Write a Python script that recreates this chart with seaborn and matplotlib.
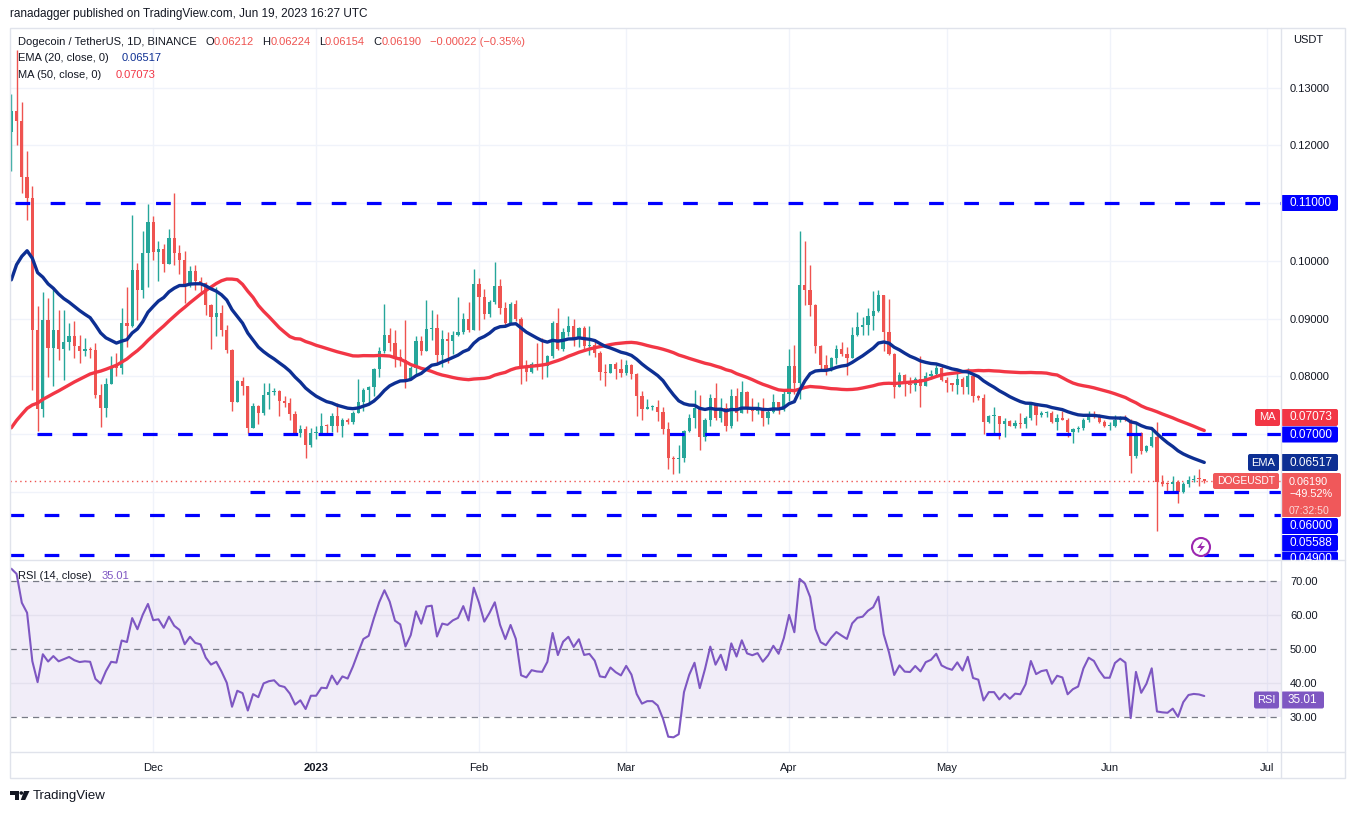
import numpy as np
import pandas as pd
import matplotlib
matplotlib.use("Agg")
import matplotlib.pyplot as plt
import matplotlib.dates as mdates
from matplotlib.patches import Rectangle, FancyBboxPatch, Circle, Polygon
import seaborn as sns

# daily DOGE/USDT candles, Nov 4 2022 .. Jun 19 2023, prices in 0.0001 USDT
start = "2022-11-04"
first_open = 1224
close = [1259, 1243, 1146, 1109, 881, 743, 897, 849, 880, 848,
         859, 870, 853, 844, 847, 845, 768, 745, 786, 818,
         815, 893, 888, 985, 949, 1013, 1067, 1016, 1020, 994,
         1040, 1013, 1001, 958, 983, 965, 961, 923, 902, 909,
         881, 846, 756, 792, 783, 711, 748, 736, 767, 772,
         774, 758, 754, 735, 701, 708, 681, 702, 702, 714,
         713, 731, 713, 724, 720, 736, 756, 777, 782, 812,
         844, 872, 858, 833, 828, 796, 815, 862, 844, 882,
         884, 837, 864, 862, 871, 876, 900, 881, 960, 938,
         908, 929, 956, 919, 893, 925, 899, 814, 808, 822,
         819, 818, 835, 892, 847, 876, 887, 867, 883, 852,
         854, 841, 808, 806, 821, 812, 806, 819, 804, 766,
         744, 747, 747, 738, 709, 658, 656, 659, 705, 728,
         745, 695, 724, 763, 727, 745, 713, 765, 737, 772,
         744, 740, 744, 727, 738, 755, 741, 769, 818, 789,
         959, 950, 924, 853, 819, 811, 831, 847, 839, 832,
         871, 886, 889, 904, 913, 941, 877, 839, 782, 802,
         786, 785, 796, 784, 800, 804, 814, 793, 788, 785,
         795, 782, 800, 765, 762, 721, 731, 731, 717, 723,
         714, 719, 718, 727, 750, 733, 736, 737, 720, 727,
         725, 704, 708, 710, 724, 733, 730, 721, 714, 714,
         724, 727, 724, 662, 701, 670, 679, 695, 616, 614,
         613, 617, 600, 614, 621, 622, 621.2, 619.0]
high = [1290, 1366, 1275, 1190, 1130, 922, 946, 935, 952, 915,
        915, 893, 896, 871, 867, 851, 857, 786, 797, 835,
        841, 918, 955, 1079, 997, 1052, 1098, 1078, 1034, 1029,
        1056, 1117, 1027, 1017, 991, 992, 972, 964, 926, 955,
        924, 889, 848, 793, 799, 783, 753, 750, 789, 789,
        780, 776, 766, 762, 739, 715, 714, 711, 714, 736,
        718, 736, 753, 727, 727, 739, 795, 779, 783, 814,
        851, 925, 883, 881, 848, 898, 818, 870, 869, 933,
        915, 908, 881, 877, 879, 938, 910, 928, 986, 971,
        951, 932, 998, 969, 929, 929, 933, 903, 828, 825,
        857, 866, 837, 895, 919, 883, 904, 899, 886, 887,
        887, 864, 843, 822, 822, 824, 830, 828, 821, 806,
        774, 760, 751, 759, 747, 721, 661, 681, 707, 734,
        776, 767, 727, 770, 788, 763, 753, 778, 779, 792,
        774, 762, 755, 763, 741, 770, 756, 778, 848, 855,
        1051, 1034, 992, 926, 854, 837, 833, 854, 860, 850,
        886, 912, 903, 919, 948, 950, 941, 934, 840, 808,
        804, 798, 799, 835, 808, 811, 819, 817, 799, 789,
        810, 798, 814, 805, 768, 770, 733, 747, 731, 727,
        724, 725, 736, 731, 753, 750, 740, 739, 739, 735,
        740, 728, 710, 714, 727, 740, 740, 735, 725, 720,
        733, 731, 733, 726, 717, 703, 681, 710, 720, 629,
        617, 627, 620, 616, 627, 629, 639, 622.4]
low = [1155, 1201, 1117, 1071, 776, 705, 730, 799, 783, 828,
       793, 846, 832, 823, 836, 831, 763, 712, 730, 786,
       800, 804, 851, 886, 897, 936, 955, 1001, 965, 981,
       994, 993, 978, 927, 955, 949, 944, 906, 848, 869,
       869, 841, 739, 756, 767, 701, 711, 718, 733, 743,
       767, 731, 747, 724, 700, 695, 659, 678, 691, 698,
       701, 704, 704, 695, 717, 717, 736, 739, 753, 765,
       799, 841, 843, 816, 818, 779, 796, 800, 837, 843,
       863, 821, 816, 823, 839, 869, 874, 877, 880, 881,
       899, 902, 925, 908, 889, 892, 895, 787, 791, 806,
       811, 795, 799, 831, 846, 844, 869, 852, 851, 843,
       837, 833, 793, 784, 805, 796, 799, 802, 795, 731,
       725, 743, 741, 722, 700, 640, 630, 632, 652, 704,
       711, 673, 688, 714, 724, 721, 705, 711, 722, 736,
       737, 723, 734, 713, 717, 736, 734, 740, 757, 769,
       761, 924, 905, 841, 811, 803, 810, 822, 835, 802,
       831, 870, 871, 871, 880, 912, 843, 837, 762, 782,
       765, 771, 775, 747, 783, 795, 800, 792, 773, 775,
       770, 770, 770, 756, 759, 700, 719, 702, 691, 695,
       713, 711, 710, 710, 724, 716, 730, 730, 719, 707,
       724, 694, 685, 704, 707, 721, 727, 719, 712, 707,
       712, 721, 723, 632, 659, 666, 669, 677, 531, 609,
       597, 600, 581, 598, 608, 617, 610, 615.4]

# closes before the visible window (Sep 16 .. Nov 3 2022), only to seed EMA / MA / RSI
warmup_close = [606, 612, 598, 585, 580, 574, 605, 625, 612, 598,
                602, 606, 612, 610, 625, 630, 631, 628, 643, 640,
                624, 612, 608, 602, 599, 596, 591, 595, 599, 601,
                602, 594, 590, 592, 596, 600, 598, 599, 601,
                640, 700, 760, 850, 1180, 1310, 1280, 1430, 1280, 1224]

# drawn support / resistance levels and where they begin
levels = [0.11, 0.07, 0.06, 0.05588, 0.049]
level_start = ["2022-11-04 17:00", "2022-11-08 20:00", "2022-12-19 12:00",
               "2022-11-03 12:00", "2022-11-03 12:00"]

month_ticks = ["2022-12-01", "2023-01-01", "2023-02-01", "2023-03-01",
               "2023-04-01", "2023-05-01", "2023-06-01", "2023-07-01"]
month_labels = ["Dec", "2023", "Feb", "Mar", "Apr", "May", "Jun", "Jul"]

UP, DOWN = "#26A69A", "#EF5350"
EMA_C, MA_C, RSI_C, LVL_C = "#0D2F93", "#F23645", "#7E57C2", "#0000FF"
TXT, GRID, FRAME = "#131722", "#F0F3FA", "#E0E3EB"

sns.set_theme(style="white")
plt.rcParams["font.family"] = ["Liberation Sans", "DejaVu Sans"]

# ---- data frame with indicators
allc = pd.Series(np.array(warmup_close + close, dtype=float) / 1e4)
ema = allc.ewm(span=20, adjust=False).mean()
ma = allc.rolling(50, min_periods=1).mean()
d = allc.diff()
gain = d.clip(lower=0).ewm(alpha=1 / 14, adjust=False).mean()
loss = (-d.clip(upper=0)).ewm(alpha=1 / 14, adjust=False).mean()
rsi = 100 - 100 / (1 + gain / loss)
n0 = len(warmup_close)

dates = pd.date_range(start, periods=len(close), freq="D")
df = pd.DataFrame({
    "x": mdates.date2num(dates),
    "open": np.array([first_open] + close[:-1], dtype=float) / 1e4,
    "high": np.array(high, dtype=float) / 1e4,
    "low": np.array(low, dtype=float) / 1e4,
    "close": np.array(close, dtype=float) / 1e4,
    "ema": ema.values[n0:],
    "ma": ma.values[n0:],
    "rsi": rsi.values[n0:],
})
df["high"] = df[["high", "open", "close"]].max(axis=1)
df["low"] = df[["low", "open", "close"]].min(axis=1)

# ---- figure layout in pixels
W, H = 1355, 814
fig = plt.figure(figsize=(W / 100, H / 100), dpi=100)
fig.patch.set_facecolor("white")


def fx(px):
    return px / W


def fy(py):
    return 1 - py / H


ax = fig.add_axes([fx(10), fy(560), fx(1281) - fx(10), fy(28) - fy(560)])
rax = fig.add_axes([fx(10), fy(752), fx(1281) - fx(10), fy(560) - fy(752)])

x0 = df["x"].iloc[0]
xlim = (x0 - 0.25, x0 + 241.6)
mt = mdates.date2num(pd.to_datetime(month_ticks))

for a in (ax, rax):
    a.set_xlim(*xlim)
    for s in a.spines.values():
        s.set_visible(False)
    a.set_facecolor("white")
    a.grid(False)
    for m in mt:
        a.axvline(m, color=GRID, lw=1, zorder=0)

# ---- price panel
ax.set_ylim(0.04816, 0.14036)
for v in np.arange(0.06, 0.1301, 0.01):
    ax.axhline(v, color=GRID, lw=1, zorder=0)
# 0.06 / 0.07 / 0.11 sit under the level tags, so only the free ones get a label
yt = [0.08, 0.09, 0.10, 0.12, 0.13]
ax.yaxis.tick_right()
ax.set_yticks(yt)
ax.set_yticklabels([f"{v:.5f}" for v in yt])
ax.tick_params(axis="y", length=0, pad=6.5, labelsize=8, labelcolor=TXT)
ax.set_xticks([])

up = df["close"] >= df["open"]
cols = np.where(up, UP, DOWN)
ax.vlines(df["x"], df["low"], df["high"], colors=cols, lw=1.0, zorder=3)
body = (df["close"] - df["open"]).abs().clip(lower=0.00017)
ax.bar(df["x"], body, bottom=df[["open", "close"]].min(axis=1), width=0.62,
       color=cols, lw=0, zorder=4)

sns.lineplot(data=df, x="x", y="ma", color=MA_C, lw=2.4, ax=ax, zorder=5, legend=False)
sns.lineplot(data=df, x="x", y="ema", color=EMA_C, lw=2.4, ax=ax, zorder=5, legend=False)
ax.set_xlabel("")
ax.set_ylabel("")

for lv, st in zip(levels, level_start):
    ax.hlines(lv, mdates.date2num(pd.Timestamp(st)), xlim[1], colors=LVL_C, lw=2.3,
              linestyles=(0, (4.6, 6.4)), zorder=6, capstyle="butt")

ax.axhline(df["close"].iloc[-1], color=DOWN, lw=1, ls=(0, (1, 2.5)), zorder=2)

# ---- RSI panel
rax.set_ylim(19.8, 76.2)
rax.axhspan(30, 70, color=RSI_C, alpha=0.1, lw=0, zorder=0)
for v in (40, 60):
    rax.axhline(v, color="#E4E1EE", lw=1, zorder=1)
for v in (30, 50, 70):
    rax.axhline(v, color="#787B86", lw=0.9, ls=(0, (5, 4)), zorder=1)
sns.lineplot(data=df, x="x", y="rsi", color=RSI_C, lw=1.5, ax=rax, zorder=4, legend=False)
rax.set_xlabel("")
rax.set_ylabel("")
rax.yaxis.tick_right()
rt = [30, 40, 50, 60, 70]
rax.set_yticks(rt)
rax.set_yticklabels([f"{v:.2f}" for v in rt])
rax.tick_params(axis="y", length=0, pad=6.5, labelsize=8, labelcolor=TXT)
rax.set_xticks(mt)
rax.set_xticklabels(month_labels)
rax.tick_params(axis="x", length=0, pad=8, labelsize=8, labelcolor=TXT)
rax.get_xticklabels()[1].set_fontweight("bold")

# ---- chrome overlay in pixel coordinates
ov = fig.add_axes([0, 0, 1, 1], zorder=10)
ov.set_xlim(0, W)
ov.set_ylim(H, 0)
ov.axis("off")
ov.patch.set_alpha(0)

ov.add_patch(Rectangle((10, 28), 1335, 750, fill=False, ec=FRAME, lw=1))
ov.plot([1281, 1281], [28, 778], color=FRAME, lw=1)
ov.plot([10, 1345], [560, 560], color=FRAME, lw=1)
ov.plot([10, 1345], [752, 752], color=FRAME, lw=1)

ov.text(10, 14, "ranadagger published on TradingView.com, Jun 19, 2023 16:27 UTC",
        fontsize=8.5, color=TXT, va="center", ha="left")

fs = 8
prev = ov.text(18, 42, "Dogecoin / TetherUS, 1D, BINANCE", fontsize=fs, color=TXT, va="center")
for lab, val in [("O", "0.06212"), ("H", "0.06224"), ("L", "0.06154"), ("C", "0.06190")]:
    t = ov.annotate(lab, xy=(1, 0.5), xycoords=prev, xytext=(6, 0), textcoords="offset points",
                    fontsize=fs, color=TXT, va="center")
    prev = ov.annotate(val, xy=(1, 0.5), xycoords=t, fontsize=fs, color=DOWN, va="center")
ov.annotate("\u22120.00022 (\u22120.35%)", xy=(1, 0.5), xycoords=prev, xytext=(6, 0),
            textcoords="offset points", fontsize=fs, color=DOWN, va="center")
ov.text(18, 58, "EMA (20, close, 0)", fontsize=fs, color=TXT, va="center")
ov.text(122, 58, "0.06517", fontsize=fs, color=EMA_C, va="center")
ov.text(18, 75, "MA (50, close, 0)", fontsize=fs, color=TXT, va="center")
ov.text(116, 75, "0.07073", fontsize=fs, color=MA_C, va="center")
ov.text(18, 576, "RSI (14, close)", fontsize=fs, color=TXT, va="center")
ov.text(102, 576, "35.01", fontsize=fs, color=RSI_C, va="center")
ov.text(1293, 40, "USDT", fontsize=8, color=TXT, va="center")

price_clip = Rectangle((1200, 28), 155, 532, transform=ov.transData)


def tag(x0_, x1_, yc, h, color, text, tx=None, ha="left", size=8.5, clip=False):
    p = FancyBboxPatch((x0_, yc - h / 2), x1_ - x0_, h,
                       boxstyle="round,pad=0,rounding_size=2", fc=color, ec="none")
    ov.add_patch(p)
    if clip:
        p.set_clip_path(price_clip)
    if text:
        t = ov.text(tx if tx is not None else x0_ + 8, yc, text, fontsize=size, color="white",
                    va="center", ha=ha)
        if clip:
            t.set_clip_path(price_clip)


tag(1281, 1338, 203, 16, LVL_C, "0.11000")
tag(1255, 1280, 417.5, 17, MA_C, "MA", tx=1267.5, ha="center", size=8)
tag(1281, 1338, 417.5, 17, MA_C, "0.07073")
tag(1281, 1338, 434.5, 16, LVL_C, "0.07000")
tag(1248, 1279, 462.5, 17, EMA_C, "EMA", tx=1263.5, ha="center", size=8)
tag(1281, 1338, 462.5, 17, EMA_C, "0.06517")
tag(1213, 1279, 481, 16, "#F0585A", "DOGEUSDT", tx=1246, ha="center", size=7.4)
tag(1281, 1341, 495, 44, "#F0585A", None)
ov.text(1289, 488, "0.06190\n\u221249.52%", fontsize=7.8, color="white", va="center",
        linespacing=1.3)
ov.text(1289, 510.5, "07:32:50", fontsize=7.6, color="#FBD9D9", va="center")
tag(1281, 1338, 526, 16, LVL_C, "0.06000")
tag(1281, 1338, 543, 16, LVL_C, "0.05588")
tag(1281, 1338, 559.5, 16, LVL_C, "0.04900", clip=True)

tag(1254, 1279, 700, 17, RSI_C, "RSI", tx=1266.5, ha="center", size=8)
tag(1281, 1324, 700, 17, RSI_C, "35.01", tx=1302.5, ha="center", size=8.5)

# lightning icon
ov.add_patch(Circle((1201, 547), 9, fill=False, ec="#9C27B0", lw=1.5))
ov.add_patch(Polygon([(1203, 541), (1197, 548), (1201, 548), (1199, 553),
                      (1205, 546), (1201, 546)], closed=True, fc="#9C27B0", ec="none"))

# TradingView logo
ov.add_patch(Polygon([(10, 791), (18.5, 791), (18.5, 800), (14.8, 800), (14.8, 794.6),
                      (10, 794.6)], closed=True, fc=TXT, ec="none"))
ov.add_patch(Circle((21.3, 793), 1.8, fc=TXT, ec="none"))
ov.add_patch(Polygon([(24, 791), (29.5, 791), (25.2, 800), (20.8, 800)], closed=True,
                     fc=TXT, ec="none"))
ov.text(33, 796, "TradingView", fontsize=9.5, color=TXT, va="center")

fig.savefig("out.png", dpi=100, facecolor="white")
